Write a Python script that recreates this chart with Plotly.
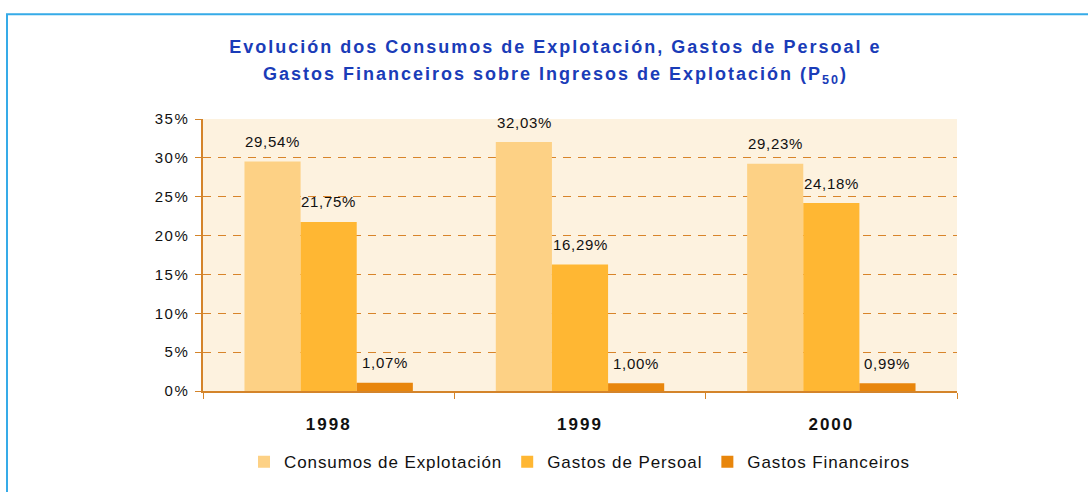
import plotly.graph_objects as go

years = ["1998", "1999", "2000"]
series_names = ["Consumos de Explotación", "Gastos de Persoal", "Gastos Financeiros"]
consumos = [29.54, 32.03, 29.23]
persoal = [21.75, 16.29, 24.18]
financeiros = [1.07, 1.00, 0.99]
colors = ["#fdd185", "#ffb733", "#e8860c"]
y_ticks = [0, 5, 10, 15, 20, 25, 30, 35]
y_tick_labels = [f"{v}%" for v in y_ticks]
title_lines = ["<b>Evolución dos Consumos de Explotación, Gastos de Persoal e</b>",
               "<b>Gastos Financeiros sobre Ingresos de Explotación (P<sub>50</sub>)</b>"]

W, H = 1088, 492
L, R, T, B = 203, 131, 119, 98
pw, ph = W - L - R, H - T - B

def py(px):  # page pixel -> paper y
    return (H - B - px) / ph

def px_(x):  # page pixel -> paper x
    return (x - L) / pw

fig = go.Figure()
all_vals = [consumos, persoal, financeiros]
for name, vals, col in zip(series_names, all_vals, colors):
    fig.add_trace(go.Bar(x=years, y=vals, name=name, marker=dict(color=col, line=dict(width=0))))

# title lines (annotation index 0 and 1)
for line, ypix in zip(title_lines, [46, 75]):
    fig.add_annotation(xref="paper", yref="paper", x=px_(555), y=py(ypix), text=line,
                       showarrow=False, xanchor="center", yanchor="middle", align="center",
                       font=dict(size=18, color="#1a3cb8"))

bar_px = 56
offsets = [-bar_px, 0, bar_px]
for vals, off in zip(all_vals, offsets):
    for i, v in enumerate(vals):
        fig.add_annotation(x=i, y=v, xref="x", yref="y", text=f"{v:.2f}".replace(".", ",") + "%",
                           showarrow=False, xshift=off, yshift=20, yanchor="middle",
                           font=dict(size=15, color="#111111"))

fig.add_shape(type="rect", xref="paper", yref="paper",
              x0=px_(7), x1=px_(1100), y0=py(510), y1=py(13),
              line=dict(color="#36abe8", width=2), fillcolor="rgba(0,0,0,0)", layer="below")

fig.update_layout(
    width=W, height=H,
    margin=dict(l=L, r=R, t=T, b=B),
    paper_bgcolor="white", plot_bgcolor="#fdf2df",
    barmode="group", bargap=0.33, bargroupgap=0,
    font=dict(family="Liberation Sans", size=15, color="#111111"),
    showlegend=True,
    legend=dict(orientation="h", x=0.5, xanchor="center", y=py(466), yanchor="middle",
                font=dict(size=17), itemwidth=30, traceorder="normal", bgcolor="rgba(0,0,0,0)"),
)
fig.update_xaxes(type="category", range=[-0.5, len(years) - 0.5], showline=True, linecolor="#d4842a",
                 linewidth=1.5, ticks="outside",
                 tickson="boundaries", ticklen=6, tickcolor="#d4842a", showgrid=False,
                 tickfont=dict(size=17, color="#111111"),
                 tickvals=years, ticktext=[f"<b>{y}</b>" for y in years], ticklabelstandoff=17)
fig.update_yaxes(range=[0, 35], tickmode="array", tickvals=y_ticks, ticktext=y_tick_labels,
                 showline=True, linecolor="#d4842a",
                 linewidth=1.5, ticks="outside", ticklen=6, tickcolor="#d4842a",
                 showgrid=True, gridcolor="#d8842a", griddash="8px,7px", gridwidth=1,
                 tickfont=dict(size=15), zeroline=False, ticklabelstandoff=3)

post_js = """
document.body.style.margin = '0';
var st = document.createElement('style');
st.textContent = 'text { letter-spacing: 0.7px; } '
  + '.legendtext { letter-spacing: 0.9px; } '
  + '.xtick text { letter-spacing: 2px; } '
  + '.ytick text { letter-spacing: 1.5px; } '
  + '.annotation[data-index="0"] text, .annotation[data-index="1"] text { letter-spacing: 2px; }';
document.head.appendChild(st);
var gd = document.getElementById('{plot_id}');
return Plotly.relayout(gd, {'font.family': 'Liberation Sans, Arial, sans-serif'});
"""

fig.write_html("out.html", div_id="chart", post_script=post_js,
               config={"displayModeBar": False})
